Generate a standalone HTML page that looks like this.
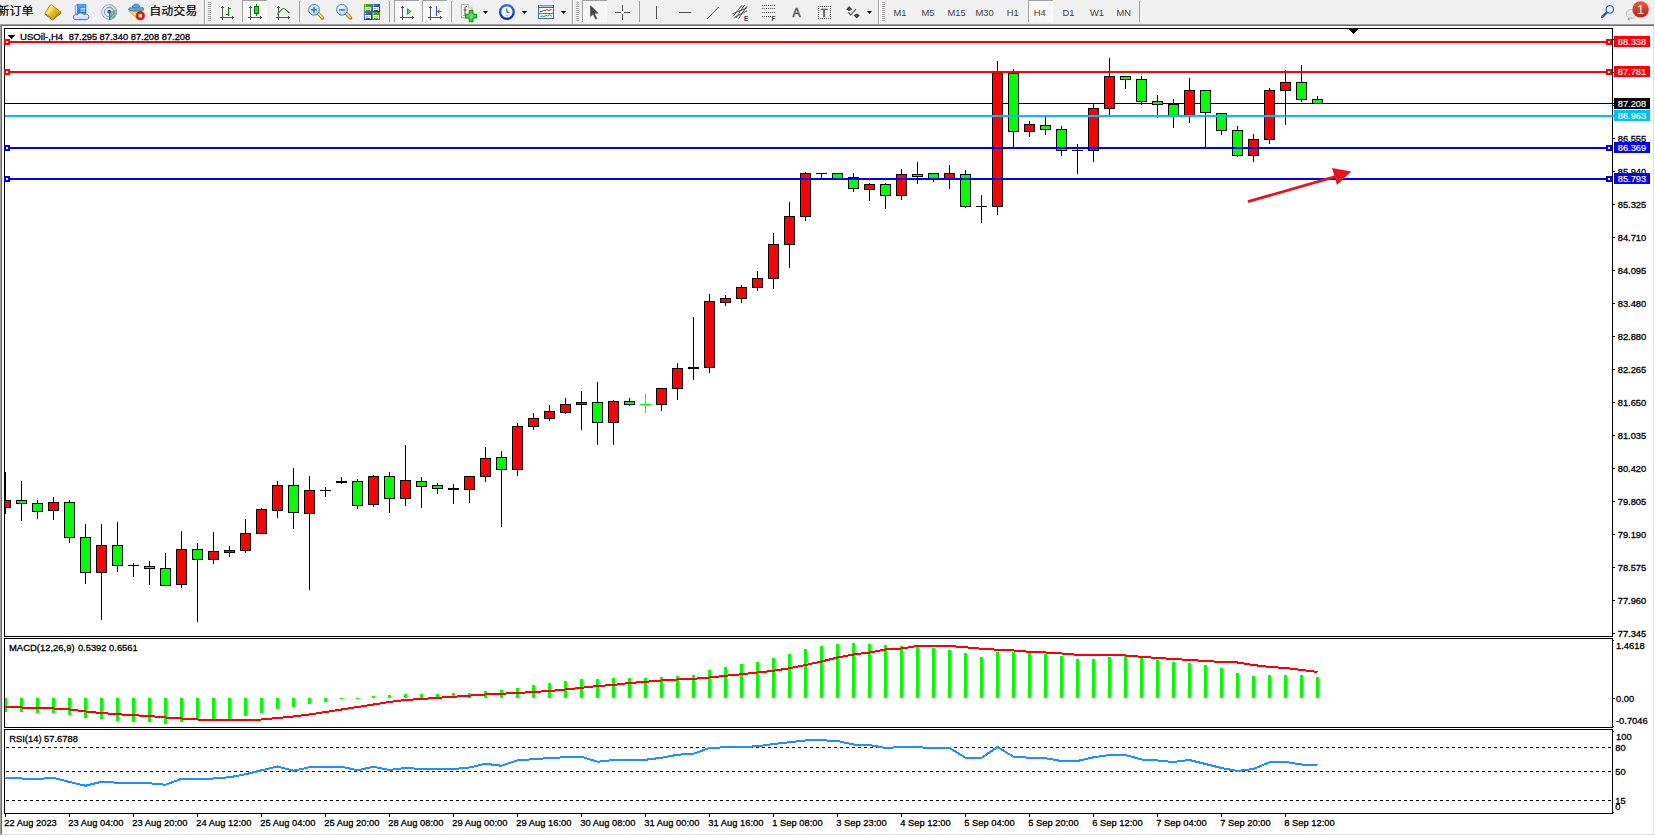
<!DOCTYPE html>
<html lang="zh"><head><meta charset="utf-8"><title>USOil-,H4</title>
<style>html,body{margin:0;padding:0;background:#fff;overflow:hidden}svg{display:block}text{font-family:"Liberation Sans","Noto Sans CJK SC",sans-serif}.ax{font-size:9.36px;fill:#000;stroke:#000;stroke-width:0.3px}.tf{font-size:9.33px;fill:#404040}.cj{font-size:12px;fill:#000;stroke:#000;stroke-width:0.2px}</style></head><body>
<svg width="1655" height="836" viewBox="0 0 1655 836">
<g id="toolbar">
<defs>
<pattern id="dith" width="2" height="2" patternUnits="userSpaceOnUse"><rect width="2" height="2" fill="#f0f0f0"/><rect width="1" height="1" fill="#fff"/><rect x="1" y="1" width="1" height="1" fill="#fff"/></pattern>
<linearGradient id="gold" x1="0" y1="0" x2="1" y2="1"><stop offset="0" stop-color="#fbe04a"/><stop offset="0.6" stop-color="#e8b010"/><stop offset="1" stop-color="#c08010"/></linearGradient>
<linearGradient id="blu" x1="0" y1="0" x2="0" y2="1"><stop offset="0" stop-color="#9fd0ff"/><stop offset="1" stop-color="#1e6fe0"/></linearGradient>
<linearGradient id="redb" x1="0" y1="0" x2="0" y2="1"><stop offset="0" stop-color="#ea5a3a"/><stop offset="1" stop-color="#c4200e"/></linearGradient>
<radialGradient id="lens" cx="0.4" cy="0.35" r="0.7"><stop offset="0" stop-color="#ffffff"/><stop offset="1" stop-color="#a8d4f4"/></radialGradient>
<g id="grip" shape-rendering="crispEdges" fill="#a6a6a6"><rect x="0" y="2" width="3" height="1"/><rect x="0" y="4" width="3" height="1"/><rect x="0" y="6" width="3" height="1"/><rect x="0" y="8" width="3" height="1"/><rect x="0" y="10" width="3" height="1"/><rect x="0" y="12" width="3" height="1"/><rect x="0" y="14" width="3" height="1"/><rect x="0" y="16" width="3" height="1"/><rect x="0" y="18" width="3" height="1"/><rect x="0" y="20" width="3" height="1"/></g>
<g id="sep" shape-rendering="crispEdges"><rect x="0" y="1" width="1" height="21" fill="#a0a0a0"/></g>
<g id="bsep" shape-rendering="crispEdges"><rect x="0" y="0" width="1" height="24" fill="#a0a0a0"/><rect x="1" y="0" width="1" height="24" fill="#fff"/></g>
<g id="axes" shape-rendering="crispEdges" fill="#505050"><rect x="2" y="2" width="1" height="14"/><rect x="1" y="3" width="3" height="1"/><rect x="0" y="13" width="14" height="1"/><rect x="12" y="12" width="1" height="3"/></g>
<g id="press" shape-rendering="crispEdges"><rect x="0" y="0" width="25" height="22" fill="url(#dith)"/><rect x="0" y="0" width="25" height="1" fill="#a0a0a0"/><rect x="0" y="0" width="1" height="22" fill="#a0a0a0"/><rect x="24" y="1" width="1" height="21" fill="#fff"/><rect x="1" y="21" width="24" height="1" fill="#fff"/></g>
<path id="dd" d="M0 0h5l-2.5 3z" fill="#000"/>
<linearGradient id="gold2" x1="0" y1="0" x2="1" y2="0.6"><stop offset="0" stop-color="#e9b21a"/><stop offset="0.35" stop-color="#fde36a"/><stop offset="0.6" stop-color="#eab818"/><stop offset="1" stop-color="#d09a10"/></linearGradient>
<linearGradient id="cloud" x1="0" y1="0" x2="0" y2="1"><stop offset="0" stop-color="#ffffff"/><stop offset="1" stop-color="#c4d0e8"/></linearGradient>
<linearGradient id="box" x1="0" y1="0" x2="0" y2="1"><stop offset="0" stop-color="#48b0ff"/><stop offset="1" stop-color="#1a6ee0"/></linearGradient>
<linearGradient id="ring" x1="0" y1="0" x2="0" y2="1"><stop offset="0" stop-color="#2a74e4"/><stop offset="1" stop-color="#0a3696"/></linearGradient>
<radialGradient id="plusg" cx="0.5" cy="0.5" r="0.6"><stop offset="0" stop-color="#6cf06c"/><stop offset="1" stop-color="#18b018"/></radialGradient>
<linearGradient id="grn" x1="0" y1="0" x2="1" y2="1"><stop offset="0" stop-color="#52b02a"/><stop offset="1" stop-color="#2a8a0e"/></linearGradient>
<linearGradient id="blc" x1="0" y1="0" x2="1" y2="1"><stop offset="0" stop-color="#4a7ae8"/><stop offset="1" stop-color="#0c2cb0"/></linearGradient>
<linearGradient id="hdl" x1="0" y1="0" x2="1" y2="0"><stop offset="0" stop-color="#f6e27a"/><stop offset="1" stop-color="#c89a1a"/></linearGradient>
</defs>
<rect x="0" y="0" width="1655" height="24" fill="#f0f0f0"/>
<rect x="0" y="24" width="1654" height="1" fill="#a0a0a0" shape-rendering="crispEdges"/>
<rect x="0" y="25" width="1654" height="1" fill="#696969" shape-rendering="crispEdges"/>
<rect x="1654" y="24" width="1" height="2" fill="#f0f0f0"/>
<text x="-2.6" y="16.2" class="cj" transform="scale(1,0.93)">新订单</text>
<!-- book -->
<g><path d="M45 14.2L52.5 20.1L61 13.2L60.8 12.2L52.6 18.4L45.2 13.4z" fill="#f2e2a4" stroke="#94600c" stroke-width="0.9" stroke-linejoin="round"/><path d="M52.7 19.2L60.8 12.8" stroke="#a87820" stroke-width="0.5"/><path d="M50.2 5C51.2 4.7 51.8 5 52.2 5.4L60.8 12.1L52.6 18.5L45 13.6C46.5 10.8 48.2 7.4 50.2 5z" fill="url(#gold2)" stroke="#b47a10" stroke-width="0.9" stroke-linejoin="round"/><path d="M47 13.2L52.4 8.2" stroke="#fff4a0" stroke-width="1.6" stroke-opacity="0.55"/></g>
<!-- doc + cloud -->
<g><path d="M75.3 5.6L77.6 4.4V13.4H75.3z" fill="#d4ecff" stroke="#2f86e6" stroke-width="0.7"/><rect x="77.6" y="4.4" width="8.4" height="9.2" fill="url(#box)" stroke="#2a78e0" stroke-width="0.6"/><rect x="80.6" y="8.3" width="4.6" height="1.1" fill="#fff"/><rect x="80.6" y="10.6" width="4.6" height="1" fill="#dff0ff"/>
<path d="M75.8 19.7C73.8 19.7 73.2 18.2 73.3 17C73.4 15.4 74.6 14.5 76 14.7C76.4 14.7 77 14.9 77.3 15.1C77.8 13.6 79.2 12.9 80.7 12.9C82.4 12.9 83.6 13.8 84 14.9C84.6 14.4 85.6 14.1 86.4 14.3C87.9 14.6 88.9 15.6 88.9 17C88.9 18.6 87.8 19.7 86.2 19.7z" fill="url(#cloud)" stroke="#4a64a8" stroke-width="0.9"/></g>
<!-- signal -->
<g fill="none"><path d="M109.2 12L109.2 19.8A7.8 7.8 0 0 0 116.6 9.4z" fill="#58b058" fill-opacity="0.75"/><path d="M109.2 4.2A7.8 7.8 0 0 1 116.6 9.4L109.2 12z" fill="#a8d0a8" fill-opacity="0.5"/><circle cx="109.2" cy="12" r="7.4" stroke="#7f9fe0" stroke-width="0.9"/><circle cx="109.2" cy="12" r="4.7" stroke="#5a82d8" stroke-width="0.9"/><circle cx="109.2" cy="11.7" r="1.9" fill="#2a5fd0"/><path d="M109.6 12.2v7.6" stroke="#18a018" stroke-width="1.3"/></g>
<!-- expert -->
<g><path d="M128.6 11.2L144 9.6L138.2 19.6z" fill="#f8d84a" stroke="#c89a10" stroke-width="0.6"/><path d="M128.3 9.4c2.5 2.6 13 2.4 15.8-0.6c-1-1.8-4-1.2-4.2-1.6c-0.6-4.2-6.6-4.4-7.6-0.2c-1.2 0.6-3.6 0.6-4 2.4z" fill="#58a8e0" stroke="#2878b8" stroke-width="0.7"/><path d="M132.4 7.2c1.8 1 5.2 1 7.4 0" fill="none" stroke="#2a6ca8" stroke-width="0.7"/><circle cx="140.3" cy="15.7" r="4.6" fill="#e01c0c"/><rect x="138.7" y="14.1" width="3.3" height="3.3" fill="#fff"/></g>
<text x="149.2" y="16.2" class="cj" transform="scale(1,0.93)">自动交易</text>
<use href="#bsep" x="204" y="0"/><use href="#grip" x="208" y="0"/>
<!-- bars -->
<use href="#axes" x="220" y="4"/><g shape-rendering="crispEdges" fill="#008000"><rect x="228" y="7" width="1" height="9"/><rect x="229" y="8" width="2" height="1"/><rect x="226" y="14" width="2" height="1"/></g>
<!-- candles pressed -->
<use href="#press" x="242" y="0"/><use href="#axes" x="248" y="4"/><g shape-rendering="crispEdges"><rect x="256" y="4" width="1" height="12" fill="#008000"/><rect x="254" y="6" width="5" height="8" fill="#008000"/><rect x="255" y="7" width="3" height="6" fill="#20d040"/></g>
<!-- line -->
<use href="#axes" x="276" y="4"/><path d="M277.5 14.5C280 11 282 8.5 283.5 8.5C285 8.5 287 11 289.5 13" fill="none" stroke="#208020" stroke-width="1.2"/>
<use href="#sep" x="299" y="0"/>
<!-- zoom in/out -->
<g id="zin"><path d="M318.6 13.8l3.9 4.2" stroke="#a87a10" stroke-width="3.4" stroke-linecap="round"/><path d="M318.4 13.4l3.8 4.1" stroke="#f0d860" stroke-width="2" stroke-linecap="round"/><circle cx="314" cy="9.8" r="5.4" fill="url(#lens)" stroke="#3a86cc" stroke-width="1"/><path d="M311 9.8h6M314 6.8v6" stroke="#3f8abc" stroke-width="1.9"/></g>
<g><path d="M346.6 13.8l3.9 4.2" stroke="#a87a10" stroke-width="3.4" stroke-linecap="round"/><path d="M346.4 13.4l3.8 4.1" stroke="#f0d860" stroke-width="2" stroke-linecap="round"/><circle cx="342" cy="9.8" r="5.4" fill="url(#lens)" stroke="#3a86cc" stroke-width="1"/><path d="M339 9.8h6" stroke="#3f8abc" stroke-width="1.9"/></g>
<!-- grid -->
<g shape-rendering="crispEdges"><rect x="364" y="4" width="8" height="8" fill="url(#grn)"/><rect x="372" y="4" width="8" height="8" fill="url(#blc)"/><rect x="364" y="12" width="8" height="8" fill="url(#blc)"/><rect x="372" y="12" width="8" height="8" fill="url(#grn)"/><g fill="#fff"><rect x="365" y="7" width="6" height="3"/><rect x="365" y="10" width="1" height="1"/><rect x="370" y="10" width="1" height="1"/><rect x="373" y="7" width="6" height="3"/><rect x="373" y="10" width="1" height="1"/><rect x="378" y="10" width="1" height="1"/><rect x="365" y="15" width="6" height="3"/><rect x="365" y="18" width="1" height="1"/><rect x="370" y="18" width="1" height="1"/><rect x="373" y="15" width="6" height="3"/><rect x="373" y="18" width="1" height="1"/><rect x="378" y="18" width="1" height="1"/><rect x="365" y="5" width="1" height="1"/><rect x="373" y="5" width="1" height="1"/><rect x="365" y="13" width="1" height="1"/><rect x="373" y="13" width="1" height="1"/></g><g><rect x="366" y="8" width="4" height="1" fill="#9ad878"/><rect x="374" y="8" width="2" height="1" fill="#8aa8f0"/><rect x="377" y="8" width="1" height="1" fill="#8aa8f0"/><rect x="366" y="16" width="2" height="1" fill="#8aa8f0"/><rect x="369" y="16" width="1" height="1" fill="#8aa8f0"/><rect x="374" y="16" width="4" height="1" fill="#9ad878"/></g></g>
<use href="#sep" x="389" y="0"/>
<!-- shift / autoscroll pressed -->
<use href="#press" x="394" y="0"/><use href="#axes" x="400" y="4"/><path d="M407.4 8.8v5.6l3.6-2.8z" fill="#58dc58" stroke="#109010" stroke-width="0.9"/>
<use href="#press" x="422" y="0"/><use href="#axes" x="428" y="4"/><g shape-rendering="crispEdges"><rect x="436" y="6" width="1" height="10" fill="#1868b8"/></g><path d="M441.5 11.5h-4M439.5 9.5l-2 2l2 2" fill="none" stroke="#d04010" stroke-width="1"/>
<use href="#sep" x="451" y="0"/>
<!-- new chart -->
<g><path d="M461.4 4.6h7.4l3.2 3.2v10h-10.6z" fill="#f6f6f6" stroke="#9a9a9a" stroke-width="0.8"/><path d="M468.8 4.6v3.2h3.2" fill="#fff" stroke="#9a9a9a" stroke-width="0.6"/><path d="M466.8 6.4c-1.6-0.2-1.8 1-1.8 2.4v5.4c0 1-0.6 1.2-1.4 1.2M463.6 10h3" fill="none" stroke="#5a4630" stroke-width="0.9"/><path d="M469.2 10.4h3.8v3.8h3.8v3.8h-3.8v3.8h-3.8v-3.8h-3.8v-3.8h3.8z" fill="url(#plusg)" stroke="#0a8a0a" stroke-width="0.9" stroke-linejoin="round"/></g>
<use href="#dd" x="483" y="11"/>
<!-- clock -->
<g><circle cx="506.9" cy="12" r="6.8" fill="#f6f9ff" stroke="url(#ring)" stroke-width="2.4"/><circle cx="506.9" cy="12" r="5.9" fill="none" stroke="#b8c8e0" stroke-width="0.5" stroke-dasharray="0.5 2.59"/><path d="M506.9 8.4v3.8h2.8" fill="none" stroke="#303030" stroke-width="0.9"/><path d="M505.4 15.6h3" stroke="#7ab8f0" stroke-width="0.8"/></g>
<use href="#dd" x="522" y="11"/>
<!-- indicators -->
<g shape-rendering="crispEdges"><rect x="538" y="5" width="16" height="14" fill="#2a6cd0"/><rect x="539" y="5" width="14" height="1" fill="#5a98e8"/><rect x="539" y="6" width="14" height="1" fill="#a8ccf4"/><rect x="539" y="8" width="14" height="10" fill="#fff"/><rect x="539" y="13" width="14" height="1" fill="#3a78d8"/></g><path d="M540 11.5h2l1.5-1h2l1.5-1l2 1l2.5-1" fill="none" stroke="#a02c10" stroke-width="1"/><path d="M540.5 16.5l2-0.5l1.5 0.5l2-1l1.5 0.5l2-1.5l2.5 2" fill="none" stroke="#1f8a1f" stroke-width="1"/>
<use href="#dd" x="561" y="11"/>
<use href="#bsep" x="572" y="0"/><use href="#grip" x="576" y="0"/>
<!-- cursor pressed -->
<use href="#press" x="582" y="0"/><path d="M590.2 5v12l2.8-2.6l2.4 5l1.8-0.9l-2.4-4.9h4z" fill="#484848"/>
<!-- crosshair -->
<g shape-rendering="crispEdges" fill="#505050"><rect x="622" y="5" width="1" height="6"/><rect x="622" y="14" width="1" height="6"/><rect x="615" y="12" width="6" height="1"/><rect x="624" y="12" width="6" height="1"/></g>
<use href="#sep" x="639" y="0"/>
<g shape-rendering="crispEdges" fill="#505050"><rect x="656" y="6" width="1" height="13"/><rect x="679" y="12" width="12" height="1"/></g>
<path d="M707 19L718.7 7" stroke="#505050" stroke-width="1"/>
<!-- channel -->
<g stroke="#484848" stroke-width="0.95" fill="none"><path d="M733.2 16.3L741.9 5.4M735.9 18L744.6 4.9M738.6 18.5L746.8 6.5"/><path d="M732.4 13.9L747 7.8M734.3 17.4L747 10.9"/></g><text x="744" y="20.5" style="font-size:6.5px;font-weight:bold;fill:#404040">E</text>
<!-- fibo -->
<g stroke="#505050" stroke-width="1" stroke-dasharray="1 1" shape-rendering="crispEdges"><path d="M762 5.5h13M762 8.5h13M762 12.5h13M762 16.5h9"/></g><text x="771.5" y="20.5" style="font-size:6.5px;font-weight:bold;fill:#404040">F</text>
<text x="792.5" y="16.5" style="font-size:12px;fill:#555;stroke:#555;stroke-width:0.5px">A</text>
<g><g stroke="#505050" stroke-width="1" stroke-dasharray="1 1" shape-rendering="crispEdges"><path d="M818 6.5h13M818 18.5h13M818.5 6v13M830.5 6v13"/></g><text x="820.6" y="16.8" style="font-size:11.5px;fill:#505050;stroke:#505050;stroke-width:0.5px">T</text></g>
<!-- arrows -->
<g fill="#484848"><path d="M846 9.5l3.2-3.4l3.2 3.4l-3.2 1.6z"/><path d="M853.4 15.2l3.3 3.4l3.3-3.4l-3.3-1.6z"/><path d="M848.4 12.4l2.2 2.6l5.4-5.8" fill="none" stroke="#484848" stroke-width="1.1"/></g>
<use href="#dd" x="867" y="11"/>
<use href="#bsep" x="878" y="0"/><use href="#grip" x="882" y="0"/>
<use href="#press" x="1028" y="0"/>
<g class="tf"><text x="893.6" y="16">M1</text><text x="921.4" y="16">M5</text><text x="947.6" y="16">M15</text><text x="975.5" y="16">M30</text><text x="1006.8" y="16">H1</text><text x="1033.7" y="16">H4</text><text x="1062.4" y="16">D1</text><text x="1090" y="16">W1</text><text x="1116.4" y="16">MN</text></g>
<use href="#sep" x="1139" y="0"/>
<!-- search -->
<g><path d="M1606.6 12.6L1602.2 16.8" stroke="#2458c0" stroke-width="2.4" stroke-linecap="round"/><circle cx="1609.8" cy="9.4" r="3.7" fill="none" stroke="#2e62d0" stroke-width="1.3"/></g>
<!-- chat -->
<g><path d="M1628.2 19.6l0.8-2.6" stroke="#a0a0a0" stroke-width="1.4"/><ellipse cx="1631.5" cy="14" rx="5.4" ry="4.6" fill="#e4e6ec" stroke="#b8b8b8" stroke-width="0.8"/><path d="M1629.6 17.8l-0.6 2.6l2.6-2.2z" fill="#e4e6ec" stroke="#a8a8a8" stroke-width="0.6"/><circle cx="1640.6" cy="9.4" r="8.2" fill="url(#redb)"/><text x="1637.3" y="13.8" style="font-size:12px;fill:#fff">1</text></g>
</g>

<g id="chart" shape-rendering="crispEdges">
<rect x="0" y="26" width="1655" height="810" fill="#fff"/>
<rect x="0" y="24" width="1" height="811" fill="#a0a0a0"/><rect x="1" y="25" width="1" height="809" fill="#696969"/>
<rect x="1653" y="26" width="1" height="809" fill="#e3e3e3"/><rect x="1654" y="24" width="1" height="812" fill="#fff"/>
<rect x="1" y="834" width="1653" height="1" fill="#e3e3e3"/><rect x="0" y="835" width="1655" height="1" fill="#fff"/>
<rect x="4" y="28" width="1609" height="1" fill="#000"/>
<rect x="4" y="28" width="1" height="609" fill="#000"/>
<rect x="4" y="638" width="1" height="90" fill="#000"/>
<rect x="4" y="729" width="1" height="85" fill="#000"/>
<rect x="1612" y="28" width="1" height="609" fill="#000"/>
<rect x="1612" y="638" width="1" height="90" fill="#000"/>
<rect x="1612" y="729" width="1" height="85" fill="#000"/>
<rect x="4" y="636" width="1609" height="1" fill="#000"/>
<rect x="4" y="638" width="1609" height="1" fill="#000"/>
<rect x="4" y="727" width="1609" height="1" fill="#000"/>
<rect x="4" y="729" width="1609" height="1" fill="#000"/>
<rect x="4" y="813" width="1609" height="1" fill="#000"/>
<rect x="4" y="103" width="1610" height="1" fill="#000"/>
<rect x="5" y="472" width="1" height="42" fill="#000"/>
<rect x="5" y="500" width="6" height="8" fill="#000"/>
<rect x="5" y="501" width="5" height="6" fill="#ff0000"/>
<rect x="21" y="481" width="1" height="40" fill="#000"/>
<rect x="16" y="500" width="11" height="4" fill="#000"/>
<rect x="17" y="501" width="9" height="2" fill="#00ff00"/>
<rect x="37" y="500" width="1" height="19" fill="#000"/>
<rect x="32" y="503" width="11" height="9" fill="#000"/>
<rect x="33" y="504" width="9" height="7" fill="#00ff00"/>
<rect x="53" y="497" width="1" height="23" fill="#000"/>
<rect x="48" y="502" width="11" height="9" fill="#000"/>
<rect x="49" y="503" width="9" height="7" fill="#ff0000"/>
<rect x="69" y="500" width="1" height="43" fill="#000"/>
<rect x="64" y="502" width="11" height="36" fill="#000"/>
<rect x="65" y="503" width="9" height="34" fill="#00ff00"/>
<rect x="85" y="524" width="1" height="60" fill="#000"/>
<rect x="80" y="537" width="11" height="36" fill="#000"/>
<rect x="81" y="538" width="9" height="34" fill="#00ff00"/>
<rect x="101" y="524" width="1" height="96" fill="#000"/>
<rect x="96" y="545" width="11" height="28" fill="#000"/>
<rect x="97" y="546" width="9" height="26" fill="#ff0000"/>
<rect x="117" y="522" width="1" height="50" fill="#000"/>
<rect x="112" y="545" width="11" height="21" fill="#000"/>
<rect x="113" y="546" width="9" height="19" fill="#00ff00"/>
<rect x="133" y="563" width="1" height="14" fill="#000"/>
<rect x="128" y="565" width="11" height="1" fill="#000"/>
<rect x="149" y="561" width="1" height="24" fill="#000"/>
<rect x="144" y="566" width="11" height="3" fill="#000"/>
<rect x="145" y="567" width="9" height="1" fill="#00ff00"/>
<rect x="165" y="553" width="1" height="33" fill="#000"/>
<rect x="160" y="568" width="11" height="18" fill="#000"/>
<rect x="161" y="569" width="9" height="16" fill="#00ff00"/>
<rect x="181" y="531" width="1" height="57" fill="#000"/>
<rect x="176" y="549" width="11" height="36" fill="#000"/>
<rect x="177" y="550" width="9" height="34" fill="#ff0000"/>
<rect x="197" y="543" width="1" height="79" fill="#000"/>
<rect x="192" y="549" width="11" height="11" fill="#000"/>
<rect x="193" y="550" width="9" height="9" fill="#00ff00"/>
<rect x="213" y="532" width="1" height="32" fill="#000"/>
<rect x="208" y="551" width="11" height="9" fill="#000"/>
<rect x="209" y="552" width="9" height="7" fill="#ff0000"/>
<rect x="229" y="546" width="1" height="11" fill="#000"/>
<rect x="224" y="550" width="11" height="3" fill="#000"/>
<rect x="225" y="551" width="9" height="1" fill="#ff0000"/>
<rect x="245" y="519" width="1" height="34" fill="#000"/>
<rect x="240" y="533" width="11" height="18" fill="#000"/>
<rect x="241" y="534" width="9" height="16" fill="#ff0000"/>
<rect x="261" y="508" width="1" height="26" fill="#000"/>
<rect x="256" y="509" width="11" height="25" fill="#000"/>
<rect x="257" y="510" width="9" height="23" fill="#ff0000"/>
<rect x="277" y="481" width="1" height="37" fill="#000"/>
<rect x="272" y="485" width="11" height="26" fill="#000"/>
<rect x="273" y="486" width="9" height="24" fill="#ff0000"/>
<rect x="293" y="468" width="1" height="61" fill="#000"/>
<rect x="288" y="485" width="11" height="28" fill="#000"/>
<rect x="289" y="486" width="9" height="26" fill="#00ff00"/>
<rect x="309" y="476" width="1" height="114" fill="#000"/>
<rect x="304" y="490" width="11" height="24" fill="#000"/>
<rect x="305" y="491" width="9" height="22" fill="#ff0000"/>
<rect x="325" y="487" width="1" height="10" fill="#000"/>
<rect x="320" y="490" width="11" height="1" fill="#000"/>
<rect x="341" y="477" width="1" height="7" fill="#000"/>
<rect x="336" y="481" width="11" height="2" fill="#000"/>
<rect x="357" y="479" width="1" height="30" fill="#000"/>
<rect x="352" y="481" width="11" height="25" fill="#000"/>
<rect x="353" y="482" width="9" height="23" fill="#00ff00"/>
<rect x="373" y="475" width="1" height="32" fill="#000"/>
<rect x="368" y="476" width="11" height="29" fill="#000"/>
<rect x="369" y="477" width="9" height="27" fill="#ff0000"/>
<rect x="389" y="472" width="1" height="41" fill="#000"/>
<rect x="384" y="476" width="11" height="23" fill="#000"/>
<rect x="385" y="477" width="9" height="21" fill="#00ff00"/>
<rect x="405" y="445" width="1" height="61" fill="#000"/>
<rect x="400" y="480" width="11" height="19" fill="#000"/>
<rect x="401" y="481" width="9" height="17" fill="#ff0000"/>
<rect x="421" y="477" width="1" height="31" fill="#000"/>
<rect x="416" y="481" width="11" height="6" fill="#000"/>
<rect x="417" y="482" width="9" height="4" fill="#00ff00"/>
<rect x="437" y="483" width="1" height="11" fill="#000"/>
<rect x="432" y="485" width="11" height="4" fill="#000"/>
<rect x="433" y="486" width="9" height="2" fill="#00ff00"/>
<rect x="453" y="484" width="1" height="20" fill="#000"/>
<rect x="448" y="488" width="11" height="2" fill="#000"/>
<rect x="469" y="476" width="1" height="27" fill="#000"/>
<rect x="464" y="476" width="11" height="14" fill="#000"/>
<rect x="465" y="477" width="9" height="12" fill="#ff0000"/>
<rect x="485" y="447" width="1" height="35" fill="#000"/>
<rect x="480" y="458" width="11" height="19" fill="#000"/>
<rect x="481" y="459" width="9" height="17" fill="#ff0000"/>
<rect x="501" y="451" width="1" height="76" fill="#000"/>
<rect x="496" y="457" width="11" height="13" fill="#000"/>
<rect x="497" y="458" width="9" height="11" fill="#00ff00"/>
<rect x="517" y="423" width="1" height="53" fill="#000"/>
<rect x="512" y="426" width="11" height="44" fill="#000"/>
<rect x="513" y="427" width="9" height="42" fill="#ff0000"/>
<rect x="533" y="413" width="1" height="17" fill="#000"/>
<rect x="528" y="418" width="11" height="9" fill="#000"/>
<rect x="529" y="419" width="9" height="7" fill="#ff0000"/>
<rect x="549" y="405" width="1" height="16" fill="#000"/>
<rect x="544" y="411" width="11" height="8" fill="#000"/>
<rect x="545" y="412" width="9" height="6" fill="#ff0000"/>
<rect x="565" y="398" width="1" height="16" fill="#000"/>
<rect x="560" y="404" width="11" height="9" fill="#000"/>
<rect x="561" y="405" width="9" height="7" fill="#ff0000"/>
<rect x="581" y="391" width="1" height="39" fill="#000"/>
<rect x="576" y="402" width="11" height="3" fill="#000"/>
<rect x="577" y="403" width="9" height="1" fill="#ff0000"/>
<rect x="597" y="382" width="1" height="63" fill="#000"/>
<rect x="592" y="402" width="11" height="21" fill="#000"/>
<rect x="593" y="403" width="9" height="19" fill="#00ff00"/>
<rect x="613" y="400" width="1" height="45" fill="#000"/>
<rect x="608" y="401" width="11" height="22" fill="#000"/>
<rect x="609" y="402" width="9" height="20" fill="#ff0000"/>
<rect x="629" y="398" width="1" height="8" fill="#000"/>
<rect x="624" y="401" width="11" height="4" fill="#000"/>
<rect x="625" y="402" width="9" height="2" fill="#00ff00"/>
<rect x="645" y="394" width="1" height="19" fill="#00ff00"/>
<rect x="640" y="404" width="11" height="1" fill="#00ff00"/>
<rect x="661" y="388" width="1" height="23" fill="#000"/>
<rect x="656" y="388" width="11" height="17" fill="#000"/>
<rect x="657" y="389" width="9" height="15" fill="#ff0000"/>
<rect x="677" y="363" width="1" height="37" fill="#000"/>
<rect x="672" y="368" width="11" height="21" fill="#000"/>
<rect x="673" y="369" width="9" height="19" fill="#ff0000"/>
<rect x="693" y="317" width="1" height="63" fill="#000"/>
<rect x="688" y="367" width="11" height="2" fill="#000"/>
<rect x="709" y="294" width="1" height="79" fill="#000"/>
<rect x="704" y="301" width="11" height="67" fill="#000"/>
<rect x="705" y="302" width="9" height="65" fill="#ff0000"/>
<rect x="725" y="295" width="1" height="11" fill="#000"/>
<rect x="720" y="298" width="11" height="5" fill="#000"/>
<rect x="721" y="299" width="9" height="3" fill="#ff0000"/>
<rect x="741" y="285" width="1" height="18" fill="#000"/>
<rect x="736" y="287" width="11" height="12" fill="#000"/>
<rect x="737" y="288" width="9" height="10" fill="#ff0000"/>
<rect x="757" y="271" width="1" height="20" fill="#000"/>
<rect x="752" y="278" width="11" height="10" fill="#000"/>
<rect x="753" y="279" width="9" height="8" fill="#ff0000"/>
<rect x="773" y="233" width="1" height="56" fill="#000"/>
<rect x="768" y="244" width="11" height="35" fill="#000"/>
<rect x="769" y="245" width="9" height="33" fill="#ff0000"/>
<rect x="789" y="202" width="1" height="66" fill="#000"/>
<rect x="784" y="216" width="11" height="29" fill="#000"/>
<rect x="785" y="217" width="9" height="27" fill="#ff0000"/>
<rect x="805" y="172" width="1" height="49" fill="#000"/>
<rect x="800" y="173" width="11" height="44" fill="#000"/>
<rect x="801" y="174" width="9" height="42" fill="#ff0000"/>
<rect x="821" y="173" width="1" height="6" fill="#000"/>
<rect x="816" y="173" width="11" height="1" fill="#000"/>
<rect x="837" y="173" width="1" height="6" fill="#000"/>
<rect x="832" y="173" width="11" height="6" fill="#000"/>
<rect x="833" y="174" width="9" height="4" fill="#00ff00"/>
<rect x="853" y="173" width="1" height="19" fill="#000"/>
<rect x="848" y="177" width="11" height="12" fill="#000"/>
<rect x="849" y="178" width="9" height="10" fill="#00ff00"/>
<rect x="869" y="183" width="1" height="18" fill="#000"/>
<rect x="864" y="184" width="11" height="6" fill="#000"/>
<rect x="865" y="185" width="9" height="4" fill="#ff0000"/>
<rect x="885" y="183" width="1" height="26" fill="#000"/>
<rect x="880" y="184" width="11" height="12" fill="#000"/>
<rect x="881" y="185" width="9" height="10" fill="#00ff00"/>
<rect x="901" y="169" width="1" height="31" fill="#000"/>
<rect x="896" y="174" width="11" height="22" fill="#000"/>
<rect x="897" y="175" width="9" height="20" fill="#ff0000"/>
<rect x="917" y="162" width="1" height="22" fill="#000"/>
<rect x="912" y="174" width="11" height="3" fill="#000"/>
<rect x="913" y="175" width="9" height="1" fill="#00ff00"/>
<rect x="933" y="173" width="1" height="9" fill="#000"/>
<rect x="928" y="173" width="11" height="6" fill="#000"/>
<rect x="929" y="174" width="9" height="4" fill="#00ff00"/>
<rect x="949" y="165" width="1" height="24" fill="#000"/>
<rect x="944" y="173" width="11" height="6" fill="#000"/>
<rect x="945" y="174" width="9" height="4" fill="#ff0000"/>
<rect x="965" y="170" width="1" height="38" fill="#000"/>
<rect x="960" y="174" width="11" height="33" fill="#000"/>
<rect x="961" y="175" width="9" height="31" fill="#00ff00"/>
<rect x="981" y="195" width="1" height="28" fill="#000"/>
<rect x="976" y="206" width="11" height="1" fill="#000"/>
<rect x="997" y="61" width="1" height="154" fill="#000"/>
<rect x="992" y="73" width="11" height="134" fill="#000"/>
<rect x="993" y="74" width="9" height="132" fill="#ff0000"/>
<rect x="1013" y="69" width="1" height="78" fill="#000"/>
<rect x="1008" y="73" width="11" height="59" fill="#000"/>
<rect x="1009" y="74" width="9" height="57" fill="#00ff00"/>
<rect x="1029" y="121" width="1" height="16" fill="#000"/>
<rect x="1024" y="124" width="11" height="8" fill="#000"/>
<rect x="1025" y="125" width="9" height="6" fill="#ff0000"/>
<rect x="1045" y="117" width="1" height="18" fill="#000"/>
<rect x="1040" y="125" width="11" height="5" fill="#000"/>
<rect x="1041" y="126" width="9" height="3" fill="#00ff00"/>
<rect x="1061" y="126" width="1" height="30" fill="#000"/>
<rect x="1056" y="129" width="11" height="22" fill="#000"/>
<rect x="1057" y="130" width="9" height="20" fill="#00ff00"/>
<rect x="1077" y="144" width="1" height="30" fill="#000"/>
<rect x="1072" y="150" width="11" height="1" fill="#000"/>
<rect x="1093" y="104" width="1" height="58" fill="#000"/>
<rect x="1088" y="108" width="11" height="43" fill="#000"/>
<rect x="1089" y="109" width="9" height="41" fill="#ff0000"/>
<rect x="1109" y="58" width="1" height="57" fill="#000"/>
<rect x="1104" y="76" width="11" height="33" fill="#000"/>
<rect x="1105" y="77" width="9" height="31" fill="#ff0000"/>
<rect x="1125" y="76" width="1" height="13" fill="#000"/>
<rect x="1120" y="76" width="11" height="4" fill="#000"/>
<rect x="1121" y="77" width="9" height="2" fill="#00ff00"/>
<rect x="1141" y="76" width="1" height="29" fill="#000"/>
<rect x="1136" y="79" width="11" height="23" fill="#000"/>
<rect x="1137" y="80" width="9" height="21" fill="#00ff00"/>
<rect x="1157" y="95" width="1" height="23" fill="#000"/>
<rect x="1152" y="101" width="11" height="4" fill="#000"/>
<rect x="1153" y="102" width="9" height="2" fill="#00ff00"/>
<rect x="1173" y="99" width="1" height="29" fill="#000"/>
<rect x="1168" y="104" width="11" height="12" fill="#000"/>
<rect x="1169" y="105" width="9" height="10" fill="#00ff00"/>
<rect x="1189" y="78" width="1" height="45" fill="#000"/>
<rect x="1184" y="90" width="11" height="26" fill="#000"/>
<rect x="1185" y="91" width="9" height="24" fill="#ff0000"/>
<rect x="1205" y="90" width="1" height="57" fill="#000"/>
<rect x="1200" y="90" width="11" height="23" fill="#000"/>
<rect x="1201" y="91" width="9" height="21" fill="#00ff00"/>
<rect x="1221" y="113" width="1" height="22" fill="#000"/>
<rect x="1216" y="113" width="11" height="18" fill="#000"/>
<rect x="1217" y="114" width="9" height="16" fill="#00ff00"/>
<rect x="1237" y="126" width="1" height="31" fill="#000"/>
<rect x="1232" y="130" width="11" height="26" fill="#000"/>
<rect x="1233" y="131" width="9" height="24" fill="#00ff00"/>
<rect x="1253" y="134" width="1" height="28" fill="#000"/>
<rect x="1248" y="139" width="11" height="17" fill="#000"/>
<rect x="1249" y="140" width="9" height="15" fill="#ff0000"/>
<rect x="1269" y="88" width="1" height="56" fill="#000"/>
<rect x="1264" y="90" width="11" height="50" fill="#000"/>
<rect x="1265" y="91" width="9" height="48" fill="#ff0000"/>
<rect x="1285" y="70" width="1" height="55" fill="#000"/>
<rect x="1280" y="82" width="11" height="9" fill="#000"/>
<rect x="1281" y="83" width="9" height="7" fill="#ff0000"/>
<rect x="1301" y="65" width="1" height="37" fill="#000"/>
<rect x="1296" y="82" width="11" height="18" fill="#000"/>
<rect x="1297" y="83" width="9" height="16" fill="#00ff00"/>
<rect x="1317" y="96" width="1" height="8" fill="#000"/>
<rect x="1312" y="99" width="11" height="5" fill="#000"/>
<rect x="1313" y="100" width="9" height="3" fill="#00ff00"/>
<rect x="4" y="41" width="1608" height="2" fill="#ff0000"/>
<rect x="4" y="39" width="6" height="6" fill="#ff0000"/>
<rect x="6" y="41" width="2" height="2" fill="#fff"/>
<rect x="1606" y="39" width="6" height="6" fill="#ff0000"/>
<rect x="1608" y="41" width="2" height="2" fill="#fff"/>
<rect x="4" y="71" width="1608" height="2" fill="#ff0000"/>
<rect x="4" y="69" width="6" height="6" fill="#ff0000"/>
<rect x="6" y="71" width="2" height="2" fill="#fff"/>
<rect x="1606" y="69" width="6" height="6" fill="#ff0000"/>
<rect x="1608" y="71" width="2" height="2" fill="#fff"/>
<rect x="5" y="115" width="1609" height="2" fill="#00bfff"/>
<rect x="4" y="147" width="1608" height="2" fill="#0000ff"/>
<rect x="4" y="145" width="6" height="6" fill="#0000ff"/>
<rect x="6" y="147" width="2" height="2" fill="#fff"/>
<rect x="1606" y="145" width="6" height="6" fill="#0000ff"/>
<rect x="1608" y="147" width="2" height="2" fill="#fff"/>
<rect x="4" y="178" width="1608" height="2" fill="#0000ff"/>
<rect x="4" y="176" width="6" height="6" fill="#0000ff"/>
<rect x="6" y="178" width="2" height="2" fill="#fff"/>
<rect x="1606" y="176" width="6" height="6" fill="#0000ff"/>
<rect x="1608" y="178" width="2" height="2" fill="#fff"/>
<rect x="1613" y="640" width="1" height="1" fill="#000"/>
<rect x="1613" y="726" width="1" height="1" fill="#000"/>
<rect x="1613" y="731" width="1" height="1" fill="#000"/>
<rect x="1613" y="812" width="1" height="1" fill="#000"/>
<rect x="1613" y="39" width="2" height="1" fill="#000"/>
<rect x="1613" y="72" width="2" height="1" fill="#000"/>
<rect x="1613" y="105" width="2" height="1" fill="#000"/>
<rect x="1613" y="138" width="2" height="1" fill="#000"/>
<rect x="1613" y="171" width="2" height="1" fill="#000"/>
<rect x="1613" y="204" width="2" height="1" fill="#000"/>
<rect x="1613" y="237" width="2" height="1" fill="#000"/>
<rect x="1613" y="270" width="2" height="1" fill="#000"/>
<rect x="1613" y="303" width="2" height="1" fill="#000"/>
<rect x="1613" y="336" width="2" height="1" fill="#000"/>
<rect x="1613" y="369" width="2" height="1" fill="#000"/>
<rect x="1613" y="402" width="2" height="1" fill="#000"/>
<rect x="1613" y="435" width="2" height="1" fill="#000"/>
<rect x="1613" y="468" width="2" height="1" fill="#000"/>
<rect x="1613" y="501" width="2" height="1" fill="#000"/>
<rect x="1613" y="534" width="2" height="1" fill="#000"/>
<rect x="1613" y="567" width="2" height="1" fill="#000"/>
<rect x="1613" y="600" width="2" height="1" fill="#000"/>
<rect x="1613" y="633" width="2" height="1" fill="#000"/>
<rect x="1613" y="698" width="2" height="1" fill="#000"/>
<text x="1617.7" y="142" class="ax">86.555</text>
<text x="1617.7" y="175" class="ax">85.940</text>
<text x="1617.7" y="208" class="ax">85.325</text>
<text x="1617.7" y="241" class="ax">84.710</text>
<text x="1617.7" y="274" class="ax">84.095</text>
<text x="1617.7" y="307" class="ax">83.480</text>
<text x="1617.7" y="340" class="ax">82.880</text>
<text x="1617.7" y="373" class="ax">82.265</text>
<text x="1617.7" y="406" class="ax">81.650</text>
<text x="1617.7" y="439" class="ax">81.035</text>
<text x="1617.7" y="472" class="ax">80.420</text>
<text x="1617.7" y="505" class="ax">79.805</text>
<text x="1617.7" y="538" class="ax">79.190</text>
<text x="1617.7" y="571" class="ax">78.575</text>
<text x="1617.7" y="604" class="ax">77.960</text>
<text x="1617.7" y="637" class="ax">77.345</text>
<rect x="1614" y="36" width="36" height="11" fill="#ff0000"/>
<text x="1617.7" y="45" class="ax" style="fill:#fff;stroke:#fff;stroke-width:0.15px">88.338</text>
<rect x="1614" y="66" width="36" height="11" fill="#ff0000"/>
<text x="1617.7" y="75" class="ax" style="fill:#fff;stroke:#fff;stroke-width:0.15px">87.781</text>
<rect x="1614" y="98" width="36" height="11" fill="#000"/>
<text x="1617.7" y="107" class="ax" style="fill:#fff;stroke:#fff;stroke-width:0.15px">87.208</text>
<rect x="1614" y="110" width="36" height="11" fill="#00bfff"/>
<text x="1617.7" y="119" class="ax" style="fill:#fff;stroke:#fff;stroke-width:0.15px">86.963</text>
<rect x="1614" y="142" width="36" height="11" fill="#0000ff"/>
<text x="1617.7" y="151" class="ax" style="fill:#fff;stroke:#fff;stroke-width:0.15px">86.369</text>
<rect x="1614" y="173" width="36" height="11" fill="#0000ff"/>
<text x="1617.7" y="182" class="ax" style="fill:#fff;stroke:#fff;stroke-width:0.15px">85.793</text>
<rect x="8" y="35" width="7" height="1" fill="#000"/>
<rect x="9" y="36" width="5" height="1" fill="#000"/>
<rect x="10" y="37" width="3" height="1" fill="#000"/>
<rect x="11" y="38" width="1" height="1" fill="#000"/>
<text y="40" class="ax"><tspan x="20" textLength="43.2" lengthAdjust="spacingAndGlyphs">USOil-,H4</tspan><tspan x="68.7">87.295</tspan><tspan x="99.5">87.340</tspan><tspan x="130.7">87.208</tspan><tspan x="161.7">87.208</tspan></text>
<rect x="1349" y="29" width="9" height="1" fill="#000"/>
<rect x="1350" y="30" width="7" height="1" fill="#000"/>
<rect x="1351" y="31" width="5" height="1" fill="#000"/>
<rect x="1352" y="32" width="3" height="1" fill="#000"/>
<rect x="1353" y="33" width="1" height="1" fill="#000"/>
<g shape-rendering="auto"><line x1="1248" y1="201.7" x2="1338" y2="175.8" stroke="#e8141c" stroke-width="2.8"/><path d="M1332 168L1351.3 171.5L1337 185.1z" fill="#e8141c"/></g>
<rect x="5" y="698" width="2" height="14" fill="#00ff00"/>
<rect x="20" y="698" width="3" height="14" fill="#00ff00"/>
<rect x="36" y="698" width="3" height="15" fill="#00ff00"/>
<rect x="52" y="698" width="3" height="15" fill="#00ff00"/>
<rect x="68" y="698" width="3" height="17" fill="#00ff00"/>
<rect x="84" y="698" width="3" height="20" fill="#00ff00"/>
<rect x="100" y="698" width="3" height="21" fill="#00ff00"/>
<rect x="116" y="698" width="3" height="23" fill="#00ff00"/>
<rect x="132" y="698" width="3" height="24" fill="#00ff00"/>
<rect x="148" y="698" width="3" height="24" fill="#00ff00"/>
<rect x="164" y="698" width="3" height="26" fill="#00ff00"/>
<rect x="180" y="698" width="3" height="24" fill="#00ff00"/>
<rect x="196" y="698" width="3" height="22" fill="#00ff00"/>
<rect x="212" y="698" width="3" height="21" fill="#00ff00"/>
<rect x="228" y="698" width="3" height="21" fill="#00ff00"/>
<rect x="244" y="698" width="3" height="18" fill="#00ff00"/>
<rect x="260" y="698" width="3" height="15" fill="#00ff00"/>
<rect x="276" y="698" width="3" height="11" fill="#00ff00"/>
<rect x="292" y="698" width="3" height="9" fill="#00ff00"/>
<rect x="308" y="698" width="3" height="6" fill="#00ff00"/>
<rect x="324" y="698" width="3" height="4" fill="#00ff00"/>
<rect x="340" y="698" width="3" height="1" fill="#00ff00"/>
<rect x="356" y="698" width="3" height="1" fill="#00ff00"/>
<rect x="372" y="696" width="3" height="2" fill="#00ff00"/>
<rect x="388" y="695" width="3" height="3" fill="#00ff00"/>
<rect x="404" y="694" width="3" height="4" fill="#00ff00"/>
<rect x="420" y="694" width="3" height="4" fill="#00ff00"/>
<rect x="436" y="694" width="3" height="4" fill="#00ff00"/>
<rect x="452" y="693" width="3" height="5" fill="#00ff00"/>
<rect x="468" y="693" width="3" height="5" fill="#00ff00"/>
<rect x="484" y="691" width="3" height="7" fill="#00ff00"/>
<rect x="500" y="690" width="3" height="8" fill="#00ff00"/>
<rect x="516" y="688" width="3" height="10" fill="#00ff00"/>
<rect x="532" y="685" width="3" height="13" fill="#00ff00"/>
<rect x="548" y="683" width="3" height="15" fill="#00ff00"/>
<rect x="564" y="681" width="3" height="17" fill="#00ff00"/>
<rect x="580" y="679" width="3" height="19" fill="#00ff00"/>
<rect x="596" y="679" width="3" height="19" fill="#00ff00"/>
<rect x="612" y="678" width="3" height="20" fill="#00ff00"/>
<rect x="628" y="678" width="3" height="20" fill="#00ff00"/>
<rect x="644" y="678" width="3" height="20" fill="#00ff00"/>
<rect x="660" y="677" width="3" height="21" fill="#00ff00"/>
<rect x="676" y="676" width="3" height="22" fill="#00ff00"/>
<rect x="692" y="675" width="3" height="23" fill="#00ff00"/>
<rect x="708" y="670" width="3" height="28" fill="#00ff00"/>
<rect x="724" y="667" width="3" height="31" fill="#00ff00"/>
<rect x="740" y="664" width="3" height="34" fill="#00ff00"/>
<rect x="756" y="662" width="3" height="36" fill="#00ff00"/>
<rect x="772" y="658" width="3" height="40" fill="#00ff00"/>
<rect x="788" y="654" width="3" height="44" fill="#00ff00"/>
<rect x="804" y="649" width="3" height="49" fill="#00ff00"/>
<rect x="820" y="646" width="3" height="52" fill="#00ff00"/>
<rect x="836" y="644" width="3" height="54" fill="#00ff00"/>
<rect x="852" y="643" width="3" height="55" fill="#00ff00"/>
<rect x="868" y="644" width="3" height="54" fill="#00ff00"/>
<rect x="884" y="645" width="3" height="53" fill="#00ff00"/>
<rect x="900" y="646" width="3" height="52" fill="#00ff00"/>
<rect x="916" y="647" width="3" height="51" fill="#00ff00"/>
<rect x="932" y="648" width="3" height="50" fill="#00ff00"/>
<rect x="948" y="650" width="3" height="48" fill="#00ff00"/>
<rect x="964" y="653" width="3" height="45" fill="#00ff00"/>
<rect x="980" y="657" width="3" height="41" fill="#00ff00"/>
<rect x="996" y="652" width="3" height="46" fill="#00ff00"/>
<rect x="1012" y="652" width="3" height="46" fill="#00ff00"/>
<rect x="1028" y="653" width="3" height="45" fill="#00ff00"/>
<rect x="1044" y="654" width="3" height="44" fill="#00ff00"/>
<rect x="1060" y="656" width="3" height="42" fill="#00ff00"/>
<rect x="1076" y="659" width="3" height="39" fill="#00ff00"/>
<rect x="1092" y="659" width="3" height="39" fill="#00ff00"/>
<rect x="1108" y="657" width="3" height="41" fill="#00ff00"/>
<rect x="1124" y="656" width="3" height="42" fill="#00ff00"/>
<rect x="1140" y="658" width="3" height="40" fill="#00ff00"/>
<rect x="1156" y="660" width="3" height="38" fill="#00ff00"/>
<rect x="1172" y="662" width="3" height="36" fill="#00ff00"/>
<rect x="1188" y="663" width="3" height="35" fill="#00ff00"/>
<rect x="1204" y="665" width="3" height="33" fill="#00ff00"/>
<rect x="1220" y="668" width="3" height="30" fill="#00ff00"/>
<rect x="1236" y="673" width="3" height="25" fill="#00ff00"/>
<rect x="1252" y="676" width="3" height="22" fill="#00ff00"/>
<rect x="1268" y="675" width="3" height="23" fill="#00ff00"/>
<rect x="1284" y="675" width="3" height="23" fill="#00ff00"/>
<rect x="1300" y="675" width="3" height="23" fill="#00ff00"/>
<rect x="1316" y="677" width="3" height="21" fill="#00ff00"/>
<polyline points="5.5,707 21.5,707.5 37.5,708 53.5,708.5 69.5,709.5 85.5,711.5 101.5,713 117.5,714.25 133.5,715.25 149.5,716 165.5,717.5 181.5,718.5 197.5,719.5 213.5,719.75 229.5,719.75 245.5,719.75 261.5,719.5 277.5,718 293.5,716.5 309.5,714.5 325.5,712 341.5,709.5 357.5,707 373.5,704.5 389.5,702 405.5,700 421.5,699 437.5,697.8 453.5,696.75 469.5,695.6 485.5,694.5 501.5,693.7 517.5,693 533.5,692 549.5,691 565.5,689.5 581.5,687.75 597.5,686 613.5,685 629.5,683 645.5,681.75 661.5,680.5 677.5,679.5 693.5,678.75 709.5,677.5 725.5,675.75 741.5,674.25 757.5,672.5 773.5,670.75 789.5,668.25 805.5,665 821.5,661.5 837.5,657.5 853.5,654.5 869.5,652.5 885.5,649.5 901.5,648.5 917.5,646 933.5,645.75 949.5,646 965.5,647.25 981.5,648.75 997.5,649.75 1013.5,650.5 1029.5,651.75 1045.5,652.5 1061.5,653.5 1077.5,654.75 1093.5,655 1109.5,655 1125.5,655.5 1141.5,656.75 1157.5,658 1173.5,659 1189.5,660 1205.5,661 1221.5,662 1237.5,662.5 1253.5,665 1269.5,667 1285.5,668 1301.5,670 1317.5,672" fill="none" stroke="#ff0000" stroke-width="2"/>
<text y="650.5" class="ax"><tspan x="9" textLength="65.6" lengthAdjust="spacingAndGlyphs">MACD(12,26,9)</tspan><tspan x="77.9">0.5392</tspan><tspan x="109.1">0.6561</tspan></text>
<text x="1616" y="649" class="ax">1.4618</text>
<text x="1616" y="702" class="ax">0.00</text>
<text x="1616" y="723.5" class="ax">-0.7046</text>
<text x="1616" y="740" class="ax">100</text>
<line x1="6" y1="747.5" x2="1612" y2="747.5" stroke="#000" stroke-width="1" stroke-dasharray="3 3"/>
<line x1="6" y1="771.5" x2="1612" y2="771.5" stroke="#000" stroke-width="1" stroke-dasharray="3 3"/>
<line x1="6" y1="800.5" x2="1612" y2="800.5" stroke="#000" stroke-width="1" stroke-dasharray="3 3"/>
<polyline points="5.5,778 21.5,778.5 37.5,779 53.5,777.75 69.5,782 85.5,785.75 101.5,781.75 117.5,782.75 133.5,782.75 149.5,783.25 165.5,784.75 181.5,778.75 197.5,779 213.5,778.5 229.5,777.25 245.5,774.25 261.5,770.25 277.5,766.5 293.5,770.75 309.5,767.25 325.5,766.75 341.5,766.75 357.5,770.25 373.5,766.75 389.5,770 405.5,768 421.5,769 437.5,769 453.5,769 469.5,767.5 485.5,763.75 501.5,765.75 517.5,760.25 533.5,759.25 549.5,758 565.5,757.25 581.5,756.75 597.5,761.75 613.5,760 629.5,759.75 645.5,759.75 661.5,757.75 677.5,754.75 693.5,753.75 709.5,748 725.5,747.25 741.5,747 757.5,746.25 773.5,744 789.5,742.25 805.5,740.5 821.5,740.25 837.5,741 853.5,744.5 869.5,745 885.5,748 901.5,747 917.5,747.25 933.5,748 949.5,748 965.5,757.75 981.5,757.75 997.5,747 1013.5,756.75 1029.5,757.75 1045.5,758.25 1061.5,761 1077.5,761 1093.5,757.25 1109.5,755 1125.5,755 1141.5,759.5 1157.5,760.5 1173.5,762 1189.5,760 1205.5,764 1221.5,768 1237.5,771 1253.5,769 1269.5,762.25 1285.5,762 1301.5,764.5 1317.5,765" fill="none" stroke="#1e90ff" stroke-width="2"/>
<text x="9.3" y="741.5" class="ax">RSI(14) 57.6788</text>
<text x="1615.2" y="751" class="ax">80</text>
<text x="1615.2" y="775" class="ax">50</text>
<text x="1615.2" y="804" class="ax">15</text>
<text x="1615.2" y="810" class="ax">0</text>
<rect x="5" y="814" width="1" height="3" fill="#000"/>
<text x="4.3" y="826" class="ax">22 Aug 2023</text>
<rect x="69" y="814" width="1" height="3" fill="#000"/>
<text x="68.3" y="826" class="ax">23 Aug 04:00</text>
<rect x="133" y="814" width="1" height="3" fill="#000"/>
<text x="132.3" y="826" class="ax">23 Aug 20:00</text>
<rect x="197" y="814" width="1" height="3" fill="#000"/>
<text x="196.3" y="826" class="ax">24 Aug 12:00</text>
<rect x="261" y="814" width="1" height="3" fill="#000"/>
<text x="260.3" y="826" class="ax">25 Aug 04:00</text>
<rect x="325" y="814" width="1" height="3" fill="#000"/>
<text x="324.3" y="826" class="ax">25 Aug 20:00</text>
<rect x="389" y="814" width="1" height="3" fill="#000"/>
<text x="388.3" y="826" class="ax">28 Aug 08:00</text>
<rect x="453" y="814" width="1" height="3" fill="#000"/>
<text x="452.3" y="826" class="ax">29 Aug 00:00</text>
<rect x="517" y="814" width="1" height="3" fill="#000"/>
<text x="516.3" y="826" class="ax">29 Aug 16:00</text>
<rect x="581" y="814" width="1" height="3" fill="#000"/>
<text x="580.3" y="826" class="ax">30 Aug 08:00</text>
<rect x="645" y="814" width="1" height="3" fill="#000"/>
<text x="644.3" y="826" class="ax">31 Aug 00:00</text>
<rect x="709" y="814" width="1" height="3" fill="#000"/>
<text x="708.3" y="826" class="ax">31 Aug 16:00</text>
<rect x="773" y="814" width="1" height="3" fill="#000"/>
<text x="772.3" y="826" class="ax">1 Sep 08:00</text>
<rect x="837" y="814" width="1" height="3" fill="#000"/>
<text x="836.3" y="826" class="ax">3 Sep 23:00</text>
<rect x="901" y="814" width="1" height="3" fill="#000"/>
<text x="900.3" y="826" class="ax">4 Sep 12:00</text>
<rect x="965" y="814" width="1" height="3" fill="#000"/>
<text x="964.3" y="826" class="ax">5 Sep 04:00</text>
<rect x="1029" y="814" width="1" height="3" fill="#000"/>
<text x="1028.3" y="826" class="ax">5 Sep 20:00</text>
<rect x="1093" y="814" width="1" height="3" fill="#000"/>
<text x="1092.3" y="826" class="ax">6 Sep 12:00</text>
<rect x="1157" y="814" width="1" height="3" fill="#000"/>
<text x="1156.3" y="826" class="ax">7 Sep 04:00</text>
<rect x="1221" y="814" width="1" height="3" fill="#000"/>
<text x="1220.3" y="826" class="ax">7 Sep 20:00</text>
<rect x="1285" y="814" width="1" height="3" fill="#000"/>
<text x="1284.3" y="826" class="ax">8 Sep 12:00</text>
</g>
</svg></body></html>
